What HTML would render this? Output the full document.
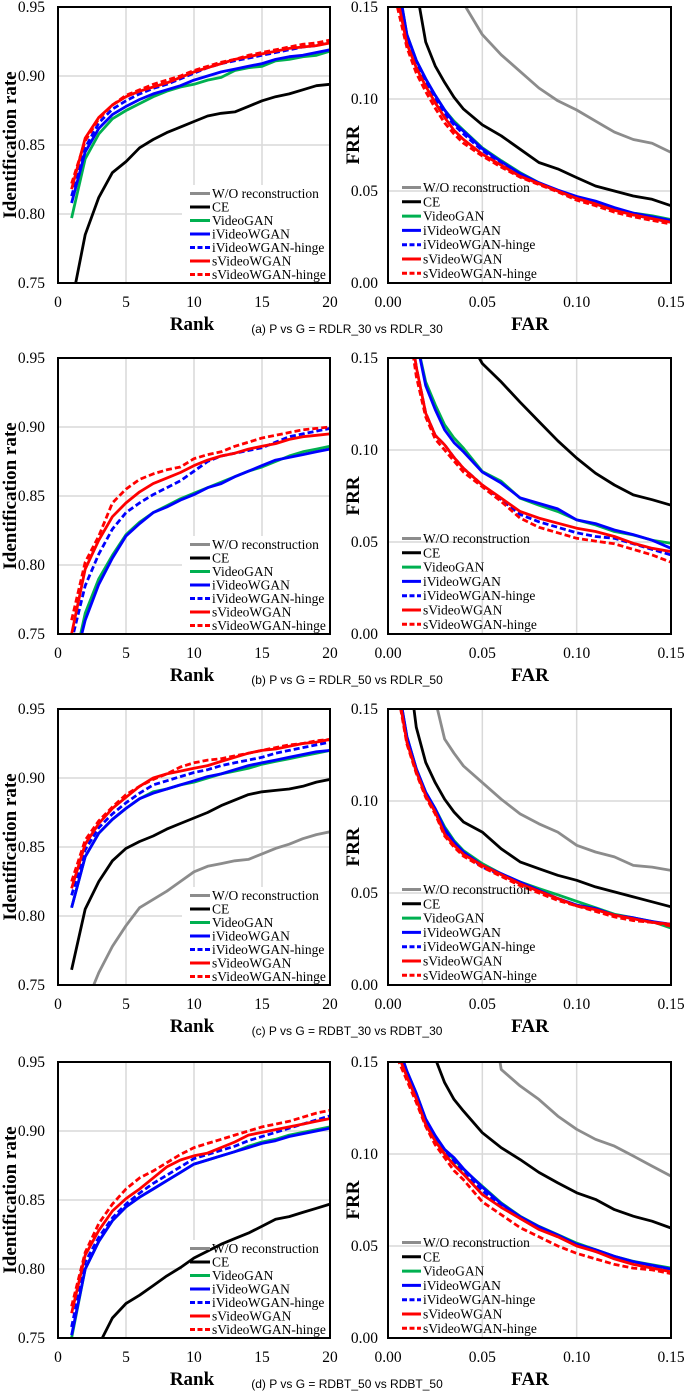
<!DOCTYPE html>
<html><head><meta charset="utf-8">
<style>
html,body{margin:0;padding:0;background:#fff;overflow:hidden;}
svg{display:block;}
text{font-family:"Liberation Serif",serif;}
</style></head>
<body>
<svg id="fig" width="685" height="1400" viewBox="0 0 685 1400" xmlns="http://www.w3.org/2000/svg"></svg>
<script>
const seriesNames = ["W/O reconstruction","CE","VideoGAN","iVideoWGAN","iVideoWGAN-hinge","sVideoWGAN","sVideoWGAN-hinge"];
const ranks = [1,2,3,4,5,6,7,8,9,10,11,12,13,14,15,16,17,18,19,20];
const farGrid = [0.005,0.01,0.015,0.02,0.025,0.03,0.035,0.04,0.05,0.06,0.07,0.08,0.09,0.10,0.11,0.12,0.13,0.14,0.15];
const rankTicks = [0,5,10,15,20];
const idTicks = [0.75,0.80,0.85,0.90,0.95];
const farTicks = [0.00,0.05,0.10,0.15];
const frrTicks = [0.00,0.05,0.10,0.15];
const captions = ["(a) P vs G = RDLR_30 vs RDLR_30","(b) P vs G = RDLR_50 vs RDLR_50","(c) P vs G = RDBT_30 vs RDBT_30","(d) P vs G = RDBT_50 vs RDBT_50"];

const idA_wo = [0.60,0.62,0.64,0.65,0.66,0.67,0.675,0.68,0.685,0.69,0.695,0.70,0.705,0.71,0.712,0.715,0.718,0.72,0.722,0.725];
const idA_ce = [0.735,0.785,0.812,0.830,0.838,0.848,0.854,0.859,0.863,0.867,0.871,0.873,0.874,0.878,0.882,0.885,0.887,0.890,0.893,0.894];
const idA_vg = [0.797,0.840,0.858,0.869,0.875,0.880,0.885,0.889,0.892,0.894,0.897,0.899,0.904,0.906,0.907,0.911,0.912,0.914,0.915,0.918];
const idA_iv = [0.808,0.845,0.862,0.872,0.878,0.883,0.887,0.890,0.893,0.897,0.900,0.903,0.905,0.907,0.909,0.912,0.914,0.915,0.917,0.919];
const idA_ih = [0.813,0.848,0.866,0.876,0.882,0.887,0.891,0.894,0.898,0.902,0.906,0.909,0.911,0.913,0.915,0.917,0.919,0.921,0.922,0.925];
const idA_sv = [0.818,0.855,0.870,0.879,0.885,0.889,0.892,0.895,0.899,0.903,0.906,0.909,0.912,0.914,0.916,0.918,0.920,0.921,0.922,0.924];
const idA_sh = [0.822,0.853,0.869,0.879,0.886,0.890,0.894,0.897,0.900,0.904,0.907,0.910,0.912,0.915,0.917,0.919,0.921,0.923,0.924,0.926];
const frA_wo = [0.40,0.35,0.30,0.26,0.23,0.20,0.17,0.152,0.135,0.124,0.115,0.106,0.099,0.094,0.088,0.082,0.078,0.076,0.071];
const frA_ce = [0.30,0.22,0.16,0.131,0.118,0.109,0.101,0.0945,0.086,0.080,0.0727,0.0655,0.062,0.0573,0.0527,0.050,0.0473,0.0455,0.042];
const frA_vg = [0.165,0.135,0.121,0.111,0.102,0.094,0.088,0.083,0.0735,0.0665,0.060,0.0545,0.050,0.0468,0.043,0.040,0.038,0.0365,0.0345];
const frA_iv = [0.165,0.135,0.121,0.111,0.102,0.094,0.087,0.0825,0.073,0.066,0.0595,0.0545,0.0505,0.047,0.0445,0.041,0.038,0.036,0.034];
const frA_ih = [0.16,0.133,0.12,0.109,0.10,0.092,0.086,0.081,0.072,0.065,0.059,0.054,0.050,0.046,0.043,0.040,0.037,0.035,0.033];
const frA_sv = [0.155,0.13,0.117,0.107,0.098,0.09,0.083,0.078,0.070,0.064,0.058,0.054,0.050,0.046,0.043,0.0395,0.037,0.035,0.033];
const frA_sh = [0.15,0.128,0.114,0.104,0.095,0.087,0.081,0.076,0.069,0.063,0.0575,0.0535,0.0495,0.045,0.042,0.0385,0.036,0.034,0.032];

const idB_wo = [0.55,0.57,0.59,0.60,0.61,0.62,0.63,0.635,0.64,0.645,0.65,0.655,0.66,0.665,0.67,0.672,0.675,0.678,0.68,0.682];
const idB_ce = [0.60,0.62,0.64,0.65,0.66,0.67,0.68,0.685,0.69,0.695,0.70,0.705,0.71,0.715,0.72,0.722,0.725,0.728,0.73,0.732];
const idB_vg = [0.72,0.765,0.790,0.807,0.822,0.831,0.838,0.843,0.848,0.852,0.856,0.860,0.864,0.868,0.871,0.875,0.879,0.882,0.884,0.886];
const idB_iv = [0.72,0.760,0.786,0.805,0.821,0.830,0.838,0.842,0.847,0.851,0.856,0.859,0.864,0.868,0.872,0.876,0.878,0.880,0.882,0.884];
const idB_ih = [0.745,0.785,0.808,0.826,0.838,0.845,0.851,0.856,0.861,0.868,0.875,0.879,0.881,0.883,0.885,0.889,0.893,0.895,0.897,0.899];
const idB_sv = [0.750,0.797,0.818,0.835,0.845,0.853,0.859,0.863,0.867,0.872,0.876,0.879,0.881,0.884,0.886,0.888,0.891,0.893,0.894,0.895];
const idB_sh = [0.760,0.802,0.821,0.845,0.855,0.862,0.866,0.869,0.871,0.877,0.880,0.882,0.886,0.889,0.892,0.894,0.896,0.898,0.899,0.900];
const frB_wo = [0.50,0.45,0.40,0.37,0.34,0.32,0.30,0.28,0.26,0.24,0.23,0.22,0.21,0.20,0.195,0.19,0.185,0.18,0.175];
const frB_ce = [0.40,0.33,0.28,0.25,0.22,0.20,0.18,0.165,0.147,0.137,0.126,0.1155,0.105,0.0956,0.0874,0.081,0.0756,0.073,0.070];
const frB_vg = [0.25,0.20,0.16,0.137,0.1246,0.1137,0.1065,0.101,0.0883,0.083,0.0738,0.070,0.0666,0.062,0.0593,0.0557,0.0538,0.051,0.0493];
const frB_iv = [0.25,0.20,0.16,0.135,0.122,0.111,0.104,0.099,0.088,0.082,0.074,0.071,0.068,0.062,0.060,0.0565,0.054,0.051,0.0466];
const frB_ih = [0.22,0.18,0.145,0.12,0.108,0.1028,0.096,0.090,0.081,0.073,0.065,0.061,0.058,0.055,0.053,0.052,0.049,0.046,0.043];
const frB_sv = [0.22,0.18,0.145,0.12,0.108,0.1028,0.096,0.090,0.081,0.0738,0.0666,0.063,0.0602,0.0575,0.0557,0.053,0.0493,0.0466,0.0448];
const frB_sh = [0.21,0.175,0.14,0.118,0.106,0.100,0.094,0.088,0.080,0.072,0.063,0.058,0.055,0.052,0.0505,0.049,0.046,0.043,0.039];

const idC_wo = [0.700,0.735,0.759,0.778,0.793,0.806,0.812,0.818,0.825,0.832,0.836,0.838,0.840,0.841,0.845,0.849,0.852,0.856,0.859,0.861];
const idC_ce = [0.761,0.805,0.825,0.840,0.849,0.854,0.858,0.863,0.867,0.871,0.875,0.880,0.884,0.888,0.890,0.891,0.892,0.894,0.897,0.899];
const idC_vg = [0.806,0.843,0.860,0.870,0.878,0.885,0.890,0.892,0.895,0.897,0.900,0.903,0.905,0.907,0.910,0.912,0.914,0.916,0.918,0.920];
const idC_iv = [0.806,0.843,0.860,0.870,0.878,0.885,0.889,0.892,0.895,0.898,0.901,0.903,0.906,0.909,0.911,0.913,0.915,0.917,0.919,0.920];
const idC_ih = [0.815,0.848,0.864,0.874,0.882,0.889,0.895,0.898,0.901,0.904,0.906,0.909,0.911,0.913,0.915,0.918,0.920,0.922,0.924,0.926];
const idC_sv = [0.820,0.852,0.867,0.878,0.886,0.894,0.900,0.903,0.905,0.907,0.909,0.912,0.915,0.918,0.920,0.921,0.923,0.925,0.926,0.928];
const idC_sh = [0.825,0.855,0.869,0.879,0.888,0.894,0.899,0.903,0.908,0.911,0.913,0.914,0.916,0.918,0.920,0.922,0.924,0.925,0.927,0.928];
const frC_wo = [0.35,0.28,0.22,0.18,0.155,0.1337,0.126,0.119,0.110,0.101,0.093,0.0876,0.0831,0.0759,0.0723,0.0696,0.065,0.0641,0.0623];
const frC_ce = [0.25,0.18,0.14,0.121,0.110,0.101,0.094,0.0886,0.0831,0.074,0.0669,0.0632,0.0596,0.0569,0.0533,0.0506,0.0479,0.0452,0.0425];
const frC_vg = [0.165,0.135,0.1175,0.1048,0.0958,0.086,0.0785,0.073,0.066,0.0605,0.056,0.0524,0.049,0.0455,0.042,0.0385,0.0365,0.0345,0.031];
const frC_iv = [0.165,0.135,0.1175,0.1048,0.0958,0.085,0.0777,0.0723,0.065,0.0605,0.056,0.0515,0.047,0.0434,0.0416,0.038,0.0365,0.0345,0.033];
const frC_ih = [0.162,0.133,0.116,0.104,0.095,0.084,0.077,0.072,0.064,0.060,0.055,0.051,0.047,0.0434,0.041,0.038,0.036,0.034,0.033];
const frC_sv = [0.162,0.132,0.116,0.103,0.094,0.082,0.076,0.071,0.065,0.060,0.055,0.051,0.047,0.043,0.041,0.038,0.036,0.034,0.033];
const frC_sh = [0.160,0.131,0.115,0.102,0.093,0.081,0.075,0.070,0.064,0.059,0.054,0.050,0.046,0.043,0.040,0.037,0.035,0.034,0.032];

const idD_wo = [0.55,0.57,0.59,0.60,0.61,0.62,0.63,0.635,0.64,0.645,0.65,0.655,0.66,0.665,0.67,0.675,0.68,0.685,0.69,0.695];
const idD_ce = [0.700,0.725,0.745,0.7645,0.775,0.781,0.788,0.795,0.801,0.808,0.813,0.818,0.822,0.826,0.831,0.836,0.838,0.841,0.844,0.847];
const idD_vg = [0.750,0.800,0.820,0.835,0.845,0.852,0.858,0.864,0.870,0.876,0.879,0.882,0.885,0.889,0.892,0.894,0.897,0.899,0.901,0.903];
const idD_iv = [0.752,0.800,0.820,0.835,0.845,0.852,0.858,0.864,0.870,0.876,0.879,0.882,0.885,0.888,0.891,0.893,0.896,0.898,0.900,0.902];
const idD_ih = [0.758,0.805,0.823,0.837,0.847,0.855,0.862,0.868,0.874,0.880,0.883,0.886,0.889,0.893,0.896,0.899,0.902,0.905,0.908,0.911];
const idD_sv = [0.768,0.810,0.828,0.842,0.851,0.858,0.866,0.874,0.879,0.882,0.884,0.888,0.892,0.897,0.899,0.901,0.903,0.905,0.907,0.909];
const idD_sh = [0.773,0.812,0.833,0.847,0.858,0.866,0.871,0.877,0.883,0.888,0.891,0.894,0.897,0.900,0.903,0.905,0.907,0.910,0.913,0.915];
const frD_wo = [0.50,0.45,0.40,0.36,0.33,0.30,0.27,0.25,0.21,0.146,0.137,0.1297,0.1206,0.1134,0.108,0.1043,0.0989,0.0934,0.088];
const frD_ce = [0.30,0.25,0.20,0.17,0.152,0.1388,0.1297,0.1233,0.1116,0.1034,0.097,0.090,0.0843,0.0789,0.0753,0.0698,0.0662,0.0635,0.0598];
const frD_vg = [0.16,0.145,0.133,0.1188,0.1097,0.1025,0.097,0.0916,0.0825,0.0734,0.0662,0.0607,0.0562,0.0516,0.048,0.0444,0.0417,0.0398,0.038];
const frD_iv = [0.16,0.145,0.133,0.119,0.110,0.1025,0.098,0.092,0.082,0.073,0.066,0.0605,0.056,0.051,0.048,0.0444,0.0415,0.0395,0.0375];
const frD_ih = [0.158,0.143,0.131,0.117,0.108,0.101,0.096,0.090,0.080,0.072,0.065,0.060,0.055,0.051,0.047,0.044,0.041,0.039,0.037];
const frD_sv = [0.155,0.142,0.130,0.116,0.107,0.100,0.094,0.089,0.078,0.071,0.065,0.059,0.055,0.050,0.047,0.043,0.040,0.038,0.036];
const frD_sh = [0.152,0.140,0.128,0.115,0.105,0.098,0.091,0.086,0.074,0.067,0.060,0.055,0.050,0.046,0.043,0.040,0.038,0.037,0.035];

const idSets = [
  [idA_wo,idA_ce,idA_vg,idA_iv,idA_ih,idA_sv,idA_sh],
  [idB_wo,idB_ce,idB_vg,idB_iv,idB_ih,idB_sv,idB_sh],
  [idC_wo,idC_ce,idC_vg,idC_iv,idC_ih,idC_sv,idC_sh],
  [idD_wo,idD_ce,idD_vg,idD_iv,idD_ih,idD_sv,idD_sh]];
const frSets = [
  [frA_wo,frA_ce,frA_vg,frA_iv,frA_ih,frA_sv,frA_sh],
  [frB_wo,frB_ce,frB_vg,frB_iv,frB_ih,frB_sv,frB_sh],
  [frC_wo,frC_ce,frC_vg,frC_iv,frC_ih,frC_sv,frC_sh],
  [frD_wo,frD_ce,frD_vg,frD_iv,frD_ih,frD_sv,frD_sh]];

const colors = ["#8c8c8c","#000000","#00b050","#0000ff","#0000ff","#ff0000","#ff0000"];
const dashes = [null,null,null,null,"6,3",null,"6,3"];
const slugs = ["wo-reconstruction","ce","videogan","ivideowgan","ivideowgan-hinge","svideowgan","svideowgan-hinge"];

const NS = "http://www.w3.org/2000/svg";
const svg = document.getElementById("fig");
function mk(tag, attrs, parent){
  const e = document.createElementNS(NS, tag);
  for (const k in attrs) e.setAttribute(k, attrs[k]);
  (parent||svg).appendChild(e);
  return e;
}
const rowTops = [7,358,709,1062];
const PH = 276;
const L = {x0:58, x1:330}, R = {x0:388, x1:671};
const defs = mk("defs",{});

rowTops.forEach((T, r) => {
  const letter = "abcd"[r];
  const gL = mk("g",{});
  
  
  const xR = v => L.x0 + (v/20)*(L.x1-L.x0);
  const yI = v => T + (0.95 - v)/0.2*PH;
  [5,10,15].forEach(v => {
    const g = mk("line",{x1:xR(v),x2:xR(v),y1:T,y2:T+PH,stroke:"#d9d9d9","stroke-width":1.5},gL);
    
    
  });
  [0.80,0.85,0.90].forEach(v => {
    const g = mk("line",{x1:L.x0,x2:L.x1,y1:yI(v),y2:yI(v),stroke:"#d9d9d9","stroke-width":1.5},gL);
    
    
  });
  const cpL = mk("clipPath",{id:"cl"+r},defs);
  mk("rect",{x:L.x0,y:T,width:L.x1-L.x0,height:PH},cpL);
  const lbg = mk("rect",{x:182,y:T+178,width:147,height:PH-179,fill:"#fff"},gL);
  
  
  idSets[r].forEach((arr, s) => {
    const pts = arr.map((v,i) => xR(ranks[i]).toFixed(1)+","+yI(v).toFixed(1)).join(" ");
    const p = mk("polyline",{points:pts,fill:"none",stroke:colors[s],"stroke-width":2.8,"stroke-linejoin":"round","clip-path":"url(#cl"+r+")"},gL);
    if (dashes[s]) p.setAttribute("stroke-dasharray", dashes[s]);
    
    
  });
  const bL = mk("rect",{x:L.x0,y:T,width:L.x1-L.x0,height:PH,fill:"none",stroke:"#000","stroke-width":2},gL);
  
  
  idTicks.forEach(v => {
    const t = mk("text",{x:45,y:yI(v)+5,"text-anchor":"end","font-size":15.5,fill:"#000"},gL);
    t.textContent = v.toFixed(2);
    
    
  });
  rankTicks.forEach(v => {
    const t = mk("text",{x:xR(v),y:T+PH+24,"text-anchor":"middle","font-size":15.5,fill:"#000"},gL);
    t.textContent = String(v);
    
    
  });
  const yt = mk("text",{x:0,y:0,"text-anchor":"middle","font-size":19,"font-weight":"bold",transform:"translate(16,"+(T+PH/2)+") rotate(-90)"},gL);
  yt.textContent = "Identification rate";
  
  
  const xt = mk("text",{x:192,y:T+PH+47,"text-anchor":"middle","font-size":19,"font-weight":"bold"},gL);
  xt.textContent = "Rank";
  
  
  seriesNames.forEach((nm, s) => {
    const ly = T + 186.5 + s*13.5;
    const ln = mk("line",{x1:190,x2:210,y1:ly,y2:ly,stroke:colors[s],"stroke-width":3},gL);
    if (dashes[s]) ln.setAttribute("stroke-dasharray","5,2.5");
    
    
    const tx = mk("text",{x:212,y:ly+4.5,"font-size":13.5,fill:"#000"},gL);
    tx.textContent = nm;
    
    
  });

  const gR = mk("g",{});
  
  
  const xF = v => R.x0 + (v/0.15)*(R.x1-R.x0);
  const yF = v => T + (0.15 - v)/0.15*PH;
  [0.05,0.10].forEach(v => {
    const g1 = mk("line",{x1:xF(v),x2:xF(v),y1:T,y2:T+PH,stroke:"#d9d9d9","stroke-width":1.5},gR);
    
    
    const g2 = mk("line",{x1:R.x0,x2:R.x1,y1:yF(v),y2:yF(v),stroke:"#d9d9d9","stroke-width":1.5},gR);
    
    
  });
  const cpR = mk("clipPath",{id:"cr"+r},defs);
  mk("rect",{x:R.x0,y:T,width:R.x1-R.x0,height:PH},cpR);
  frSets[r].forEach((arr, s) => {
    const pts = arr.map((v,i) => xF(farGrid[i]).toFixed(1)+","+yF(v).toFixed(1)).join(" ");
    const p = mk("polyline",{points:pts,fill:"none",stroke:colors[s],"stroke-width":2.8,"stroke-linejoin":"round","clip-path":"url(#cr"+r+")"},gR);
    if (dashes[s]) p.setAttribute("stroke-dasharray", dashes[s]);
    
    
  });
  const bR = mk("rect",{x:R.x0,y:T,width:R.x1-R.x0,height:PH,fill:"none",stroke:"#000","stroke-width":2},gR);
  
  
  frrTicks.forEach(v => {
    const t = mk("text",{x:378,y:yF(v)+5,"text-anchor":"end","font-size":15.5},gR);
    t.textContent = v.toFixed(2);
    
    
  });
  farTicks.forEach(v => {
    const t = mk("text",{x:xF(v),y:T+PH+24,"text-anchor":"middle","font-size":15.5},gR);
    t.textContent = v.toFixed(2);
    
    
  });
  const yt2 = mk("text",{x:0,y:0,"text-anchor":"middle","font-size":19,"font-weight":"bold",transform:"translate(359,"+(T+PH/2)+") rotate(-90)"},gR);
  yt2.textContent = "FRR";
  
  
  const xt2 = mk("text",{x:530,y:T+PH+47,"text-anchor":"middle","font-size":19,"font-weight":"bold"},gR);
  xt2.textContent = "FAR";
  
  
  seriesNames.forEach((nm, s) => {
    const ly = T + 180.5 + s*14.3;
    const ln = mk("line",{x1:402,x2:421,y1:ly,y2:ly,stroke:colors[s],"stroke-width":3},gR);
    if (dashes[s]) ln.setAttribute("stroke-dasharray","5,2.5");
    
    
    const tx = mk("text",{x:423,y:ly+4.5,"font-size":13.5},gR);
    tx.textContent = nm;
    
    
  });

  const cap = mk("text",{x:347,y:T+PH+50,"text-anchor":"middle","font-size":12,style:"font-family:'Liberation Sans',sans-serif"});
  cap.textContent = captions[r];
  
  
});
</script>
</body></html>
